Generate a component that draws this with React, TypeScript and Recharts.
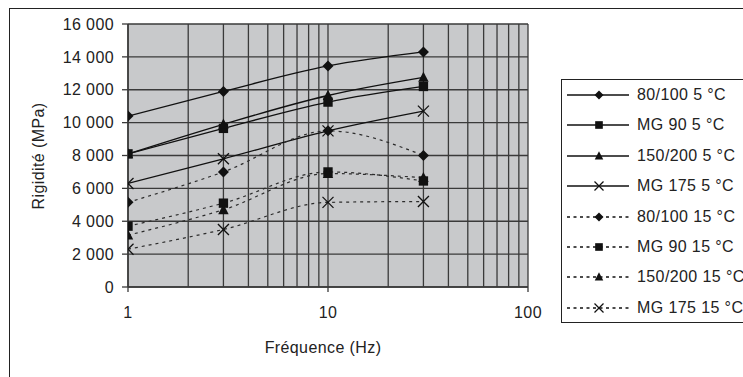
import React from "react";
import {
  CartesianGrid,
  Label,
  Line,
  LineChart,
  XAxis,
  YAxis,
} from "recharts";

// Fréquence (Hz) measured
const frequencies = [1, 3, 10, 30];

// Rigidité (MPa)
const bit80_100_5 = [10400, 11900, 13450, 14300];
const mg90_5 = [8100, 9650, 11250, 12200];
const bit150_200_5 = [8100, 9900, 11650, 12750];
const mg175_5 = [6300, 7800, 9500, 10700];
const bit80_100_15 = [5150, 7000, 9500, 8000];
const mg90_15 = [3700, 5100, 7000, 6450];
const bit150_200_15 = [3150, 4700, 6900, 6650];
const mg175_15 = [2300, 3500, 5150, 5200];

const seriesLabels = [
  "80/100 5 °C",
  "MG 90 5 °C",
  "150/200 5 °C",
  "MG 175 5 °C",
  "80/100 15 °C",
  "MG 90 15 °C",
  "150/200 15 °C",
  "MG 175 15 °C",
];

const xGridTicks = [1, 2, 3, 4, 5, 6, 7, 8, 9, 10, 20, 30, 40, 50, 60, 70, 80, 90, 100];
const xLabelTicks = [1, 10, 100];
const yTicks = [0, 2000, 4000, 6000, 8000, 10000, 12000, 14000, 16000];

type Shape = "diamond" | "square" | "triangle" | "cross";

const seriesDefs: { key: string; values: number[]; shape: Shape; dashed: boolean }[] = [
  { key: "s0", values: bit80_100_5, shape: "diamond", dashed: false },
  { key: "s1", values: mg90_5, shape: "square", dashed: false },
  { key: "s2", values: bit150_200_5, shape: "triangle", dashed: false },
  { key: "s3", values: mg175_5, shape: "cross", dashed: false },
  { key: "s4", values: bit80_100_15, shape: "diamond", dashed: true },
  { key: "s5", values: mg90_15, shape: "square", dashed: true },
  { key: "s6", values: bit150_200_15, shape: "triangle", dashed: true },
  { key: "s7", values: mg175_15, shape: "cross", dashed: true },
];

const chartData = frequencies.map((f, i) => {
  const row: Record<string, number> = { f };
  seriesDefs.forEach((s) => {
    row[s.key] = s.values[i];
  });
  return row;
});

const FONT = "'Liberation Sans', Arial, Helvetica, sans-serif";
const INK = "#111";
const GRID = "#3a3a3a";
const SPACING = 0.4;

function Marker({ shape, cx, cy, s }: { shape: Shape; cx: number; cy: number; s: number }) {
  if (shape === "diamond") {
    return (
      <polygon
        points={`${cx},${cy - s} ${cx + s},${cy} ${cx},${cy + s} ${cx - s},${cy}`}
        fill={INK}
      />
    );
  }
  if (shape === "square") {
    const h = s * 0.85;
    return <rect x={cx - h} y={cy - h} width={h * 2} height={h * 2} fill={INK} />;
  }
  if (shape === "triangle") {
    return (
      <polygon
        points={`${cx},${cy - s * 1.05} ${cx + s * 0.95},${cy + s * 0.8} ${cx - s * 0.95},${cy + s * 0.8}`}
        fill={INK}
      />
    );
  }
  return (
    <g stroke={INK} strokeWidth={1.3}>
      <line x1={cx - s} y1={cy - s} x2={cx + s} y2={cy + s} />
      <line x1={cx - s} y1={cy + s} x2={cx + s} y2={cy - s} />
    </g>
  );
}

const makeDot = (shape: Shape) => (props: any) => {
  const { cx, cy, key, index } = props;
  if (cx == null || cy == null) return <g key={key ?? index} />;
  return (
    <g key={key ?? `${shape}-${index}`}>
      <Marker shape={shape} cx={cx} cy={cy} s={5.5} />
    </g>
  );
};

function formatThousands(v: number) {
  if (v < 1000) return String(v);
  return `${Math.floor(v / 1000)} ${String(v % 1000).padStart(3, "0")}`;
}

function FreqTick(props: any) {
  const { x, y, payload } = props;
  const v = payload?.value;
  if (!xLabelTicks.includes(v)) return <g />;
  const axisY = y - 8;
  return (
    <g>
      <line x1={x} y1={axisY} x2={x} y2={axisY + 5} stroke={GRID} strokeWidth={1.3} />
      <text
        x={x}
        y={axisY + 31}
        textAnchor="middle"
        fontSize={16}
        fontFamily={FONT}
        letterSpacing={SPACING}
        fill="#222"
      >
        {v}
      </text>
    </g>
  );
}

function LegendBox() {
  return (
    <div
      style={{
        position: "absolute",
        left: 561,
        top: 79,
        width: 260,
        height: 244,
        border: "1.5px solid #222",
        boxSizing: "border-box",
        background: "#fff",
        fontFamily: FONT,
        fontSize: 16,
        letterSpacing: SPACING,
        color: "#222",
      }}
    >
      {seriesDefs.map((s, i) => (
        <div
          key={s.key}
          style={{
            position: "absolute",
            left: 0,
            top: 4 + i * 30.4,
            height: 22,
            display: "flex",
            alignItems: "center",
            whiteSpace: "nowrap",
          }}
        >
          <svg width={72} height={22} style={{ display: "block" }}>
            <line
              x1={5}
              y1={11}
              x2={67}
              y2={11}
              stroke={INK}
              strokeWidth={1.3}
              strokeDasharray={s.dashed ? "3 3.5" : undefined}
            />
            <Marker shape={s.shape} cx={37} cy={11} s={4.5} />
          </svg>
          <span style={{ marginLeft: 3 }}>{seriesLabels[i]}</span>
        </div>
      ))}
    </div>
  );
}

export default function App() {
  return (
    <div
      style={{
        position: "absolute",
        left: 0,
        top: 0,
        width: 743,
        height: 377,
        overflow: "hidden",
        background: "#fff",
      }}
    >
      <div
        style={{
          position: "absolute",
          left: 9,
          top: 8,
          width: 800,
          height: 420,
          border: "1.5px solid #222",
          boxSizing: "border-box",
        }}
      />
      <div style={{ position: "absolute", left: 0, top: 0 }}>
        <LineChart
          width={743}
          height={377}
          data={chartData}
          margin={{ top: 24, right: 215, bottom: 30, left: 0 }}
        >
          <CartesianGrid
            stroke={GRID}
            strokeWidth={1.3}
            fill="#c8c9cb"
            fillOpacity={1}
          />
          <XAxis
            dataKey="f"
            type="number"
            scale="log"
            domain={[1, 100]}
            ticks={xGridTicks}
            interval={0}
            allowDataOverflow
            height={60}
            tickLine={false}
            axisLine={{ stroke: GRID, strokeWidth: 1.3 }}
            tick={<FreqTick />}
          >
            <Label
              content={() => (
                <text
                  x={323}
                  y={353}
                  textAnchor="middle"
                  fontSize={16}
                  fontFamily={FONT}
                  letterSpacing={SPACING}
                  fill="#222"
                >
                  Fréquence (Hz)
                </text>
              )}
            />
          </XAxis>
          <YAxis
            type="number"
            domain={[0, 16000]}
            ticks={yTicks}
            interval={0}
            width={128}
            tickSize={6}
            tickMargin={8}
            tickFormatter={formatThousands}
            tickLine={{ stroke: GRID, strokeWidth: 1.3 }}
            axisLine={{ stroke: GRID, strokeWidth: 1.5 }}
            tick={{ fontSize: 16, fontFamily: FONT, fill: "#222", letterSpacing: SPACING }}
          >
            <Label
              content={() => (
                <text
                  x={44}
                  y={156}
                  transform="rotate(-90 44 156)"
                  textAnchor="middle"
                  fontSize={16}
                  fontFamily={FONT}
                  letterSpacing={SPACING}
                  fill="#222"
                >
                  Rigidité (MPa)
                </text>
              )}
            />
          </YAxis>
          {seriesDefs.map((s) => (
            <Line
              key={s.key}
              dataKey={s.key}
              type="monotone"
              stroke={s.dashed ? "#2c2c2c" : INK}
              strokeWidth={s.dashed ? 1.2 : 1.3}
              strokeDasharray={s.dashed ? "3 4" : undefined}
              dot={makeDot(s.shape)}
              activeDot={false}
              isAnimationActive={false}
            />
          ))}
        </LineChart>
      </div>
      <LegendBox />
    </div>
  );
}
